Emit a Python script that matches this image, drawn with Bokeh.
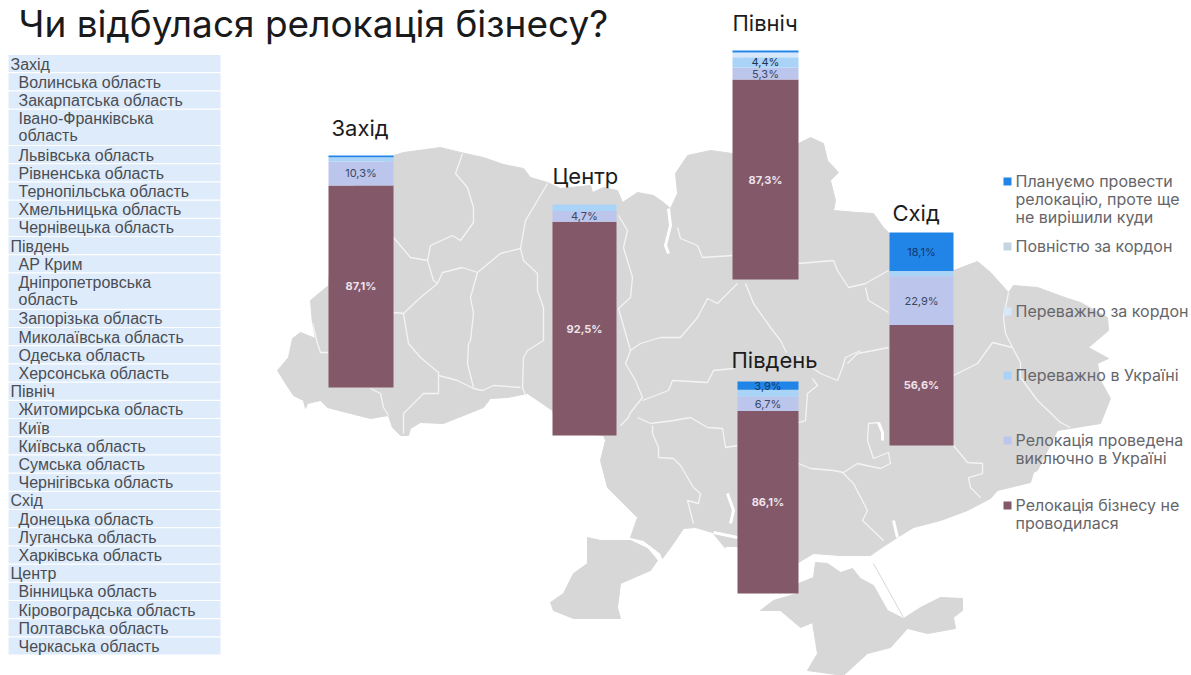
from bokeh.plotting import figure
from bokeh.models import Range1d
from bokeh.core.properties import value
from bokeh.embed import file_html
from bokeh.resources import INLINE

# ---------- data ----------
regions = ["Захід", "Центр", "Північ", "Південь", "Схід"]
not_relocated = [87.1, 92.5, 87.3, 86.1, 56.6]
only_ukraine = [10.3, 4.7, 5.3, 6.7, 22.9]
mostly_ukraine = [1.8, 2.8, 4.4, 3.3, 2.4]
mostly_abroad = [0.0, 0.0, 2.1, 0.0, 0.0]
fully_abroad = [0.0, 0.0, 0.0, 0.0, 0.0]
planned = [0.8, 0.0, 0.9, 3.9, 18.1]
shown_labels = [
    ["87,1%", "10,3%", "", "", "", ""],
    ["92,5%", "4,7%", "", "", "", ""],
    ["87,3%", "5,3%", "4,4%", "", "", ""],
    ["86,1%", "6,7%", "", "", "", "3,9%"],
    ["56,6%", "22,9%", "", "", "", "18,1%"],
]
series = [not_relocated, only_ukraine, mostly_ukraine, mostly_abroad, fully_abroad, planned]
series_colors = ["#835869", "#bcc5eb", "#a9d3f7", "#d7e8fa", "#c4d6e4", "#2185e8"]
label_colors = ["#efe3ea", "#3a4766", "#1d3557", "#33405e", "#33405e", "#14386b"]

legend_texts = [
    ["Плануємо провести", "релокацію, проте ще", "не вирішили куди"],
    ["Повністю за кордон"],
    ["Переважно за кордон"],
    ["Переважно в Україні"],
    ["Релокація проведена", "виключно в Україні"],
    ["Релокація бізнесу не", "проводилася"],
]
legend_colors = ["#2185e8", "#c4d6e4", "#d7e8fa", "#a9d3f7", "#bcc5eb", "#835869"]

table_rows = [
    ("Захід", 0), ("Волинська область", 1), ("Закарпатська область", 1),
    ("Івано-Франківська\nобласть", 1), ("Львівська область", 1), ("Рівненська область", 1),
    ("Тернопільська область", 1), ("Хмельницька область", 1), ("Чернівецька область", 1),
    ("Південь", 0), ("АР Крим", 1), ("Дніпропетровська\nобласть", 1),
    ("Запорізька область", 1), ("Миколаївська область", 1), ("Одеська область", 1),
    ("Херсонська область", 1), ("Північ", 0), ("Житомирська область", 1), ("Київ", 1),
    ("Київська область", 1), ("Сумська область", 1), ("Чернігівська область", 1),
    ("Схід", 0), ("Донецька область", 1), ("Луганська область", 1), ("Харківська область", 1),
    ("Центр", 0), ("Вінницька область", 1), ("Кіровоградська область", 1),
    ("Полтавська область", 1), ("Черкаська область", 1),
]

# ---------- layout ----------
W, H = 1191, 675
bar_x = [360.5, 584, 765, 767.5, 921]
bar_w = [65, 64, 66, 61, 64]
bar_base = [387, 435, 279, 593, 445]
bar_scale = [2.32, 2.31, 2.29, 2.12, 2.13]
region_label_x = [331, 552, 732, 731, 892]
region_label_y = [127, 175, 22, 359, 212]

# ---------- map shapes ----------
main_x = [328,335,393,403,440,460,483,503,523,530,547,560,590,592,603,617,622,637,653,663,670,677,675,687,710,732,798,810,823,827,838,830,835,833,857,873,883,889,953,977,990,1008,1013,1037,1067,1080,1107,1108,1088,1108,1097,1100,1110,1100,1057,1037,1033,1030,997,990,967,940,913,900,880,870,840,813,798,770,737,725,712,695,683,673,662,660,643,630,637,620,607,600,605,603,560,552,527,507,490,483,463,443,420,410,408,400,392,388,370,350,327,320,307,305,303,293,285,277,288,292,300,315,312,310,328]
main_y = [285,200,155,152,147,152,157,164,168,177,182,188,185,192,187,190,202,192,195,202,208,193,173,155,150,153,143,137,143,160,172,180,200,210,212,213,227,233,270,261,272,292,285,287,298,302,317,330,347,358,363,380,398,423,430,470,472,482,490,498,510,520,527,535,548,555,555,553,562,570,548,548,532,527,528,543,558,553,540,537,517,500,487,460,440,435,430,410,393,397,398,407,415,423,422,428,435,435,427,415,418,413,407,400,403,408,400,395,383,370,357,338,332,338,323,300,285]
budjak_x = [587,600,630,647,657,650,620,617,620,573,553,550,563,573,587]
budjak_y = [537,540,540,548,560,570,583,607,618,618,610,602,593,573,563]
crimea_x = [798,813,815,827,840,852,860,873,887,903,920,940,962,962,953,955,927,907,890,867,843,807,817,812,800,780,760,773,797]
crimea_y = [583,577,562,563,572,568,578,585,610,618,607,597,598,610,617,628,633,628,647,653,675,670,653,622,627,610,610,600,593]

border_xs = [
    [462,455,467,473,473,460,452,430,427,433,437,420,403,393],
    [393,410,427],
    [437,442,462,477,500,520,525,537,547],
    [520,523,537,537,543,543,527,523,522,525],
    [477,470,473,470,468,467,473],
    [403,408,420,438,438,423,403,403],
    [438,457,473,482,493,520],
    [312,317,320,328],
    [370,380,383,388],
    [618,627,623,632,630,618,628,630,625,635,642,630,628,620],
    [630,640,660,680,697,707,717,733,737],
    [677,680,697,702,732],
    [745,753,770,780,786],
    [642,668,672,707,713,733],
    [637,650,673,690,707,722,725,737],
    [652,652,658,658,673,680,693,700,698,687,693],
    [798,833,837,848,865,888],
    [865,868,888],
    [847,857,873,888],
    [798,810,833,843,857,880,890,888,873,867,868,878],
    [842,853,867,862,883],
    [812,817,807,805,798],
    [797,820,837,842,845,860],
    [1008,1003,1005,1012,1020,1020,1037,1060,1070],
    [1012,992,977,953],
    [953,967,982,982,968,970,980],
]
border_ys = [
    [153,173,187,207,222,240,235,245,260,280,283,297,313,312],
    [237,257,260],
    [283,272,267,272,253,248,220,200,183],
    [248,260,273,290,307,340,350,357,387,395],
    [272,297,313,340,343,363,387],
    [313,343,357,372,393,393,413,433],
    [375,380,388,390,385,387],
    [323,343,352,352],
    [388,393,407,415],
    [215,230,247,277,297,308,343,350,363,380,397,412,417,425],
    [350,343,337,337,317,298,303,287,283],
    [227,238,245,257,255],
    [283,303,327,340,352],
    [400,390,380,382,370,368],
    [417,423,420,417,427,428,447,445],
    [425,433,447,457,458,465,487,493,503,500,523],
    [263,260,270,287,283,270],
    [287,300,312],
    [363,353,350,347],
    [463,468,470,472,463,468,463,452,458,440,423,422],
    [472,483,510,520,540],
    [378,385,393,420,422],
    [357,373,380,367,357,350],
    [292,317,333,347,362,377,400,422,427],
    [347,342,363,375],
    [445,462,463,473,477,487,497],
]
water_xs = [[668,670,665,668], [727,733,730], [713,737], [893,897], [725,737], [878,882,882]]
water_ys = [[208,225,245,253], [493,510,523], [532,537], [520,537], [548,548], [422,432,440]]

# ---------- figure ----------
p = figure(width=W, height=H, output_backend="svg", toolbar_location=None,
           x_range=Range1d(0, W), y_range=Range1d(H, 0),
           min_border=0, margin=(0, 0, 0, 0), background_fill_color="white",
           border_fill_color="white")
p.axis.visible = False
p.grid.visible = False
p.outline_line_color = None

GREY = "#d7d7d7"
p.patches([main_x, budjak_x, crimea_x], [main_y, budjak_y, crimea_y],
          fill_color=GREY, line_color=GREY, line_width=1)
p.multi_line(border_xs, border_ys, line_color="#f4f4f4", line_width=1.3, line_join="round")
p.multi_line(water_xs, water_ys, line_color="white", line_width=3, line_join="round")
p.line([873, 903], [563, 617], line_color="#d8d8d8", line_width=1)

# stacked bars, each with its own percentage scale
for i, region in enumerate(regions):
    b, s = bar_base[i], bar_scale[i]
    p.extra_y_ranges[region] = Range1d(start=(b - H) / s, end=b / s)
    bottoms, tops, cols = [], [], []
    groups = {"bold": ([], [], [], []), "normal": ([], [], [], [])}
    cum = 0.0
    for j, ser in enumerate(series):
        v = ser[i]
        if v > 0:
            bottoms.append(cum)
            tops.append(cum + v)
            cols.append(series_colors[j])
            if shown_labels[i][j]:
                g = groups["bold" if j == 0 else "normal"]
                g[0].append(bar_x[i])
                g[1].append(cum + v / 2)
                g[2].append(shown_labels[i][j])
                g[3].append(label_colors[j])
        cum += v
    p.vbar(x=bar_x[i], width=bar_w[i], bottom=bottoms, top=tops, fill_color=cols,
           line_color=None, y_range_name=region)
    for style, g in groups.items():
        if g[0]:
            p.text(x=g[0], y=g[1], text=g[2], text_color=g[3], text_font=value("Inter"),
                   text_font_size="11px", text_font_style=style, text_align="center",
                   text_baseline="middle", y_range_name=region)

# region names
p.text(x=region_label_x, y=region_label_y, text=regions, text_font=value("Inter"),
       text_font_size="22px", text_color="#1c1c1c", text_baseline="middle")

# title
p.text(x=[18], y=[23], text=["Чи відбулася релокація бізнесу?"], text_font=value("Inter"),
       text_font_size="37px", text_color="#1a1a1a", text_baseline="middle")

# table on the left
ty = 54.0
for label, indent in table_rows:
    lines = label.split("\n")
    h = 18.2 * len(lines)
    p.quad(left=8, right=220, top=ty + 0.6, bottom=ty + h - 0.6, fill_color="#deebfa", line_color=None)
    tx = 18 if indent else 10
    p.text(x=[tx] * len(lines), y=[ty + 9.6 + 17 * k for k in range(len(lines))], text=lines,
           text_font=value("Liberation Sans"), text_font_size="16px", text_color="#4a4e54",
           text_baseline="middle")
    ty += h

# legend
legend_y = [181, 246, 311, 375, 440, 505]
leg_tx, leg_ty, leg_tt = [], [], []
for y0, lines in zip(legend_y, legend_texts):
    for k, line in enumerate(lines):
        leg_tx.append(1015)
        leg_ty.append(y0 - 1 + 18 * k)
        leg_tt.append(line)
p.scatter(x=[1007] * 6, y=legend_y, marker="square", size=8, fill_color=legend_colors, line_color=None)
p.text(x=leg_tx, y=leg_ty, text=leg_tt, text_font=value("Inter"), text_font_size="16px",
       text_color="#66666a", text_baseline="middle")

open("out.html", "w").write(file_html(p, INLINE))
